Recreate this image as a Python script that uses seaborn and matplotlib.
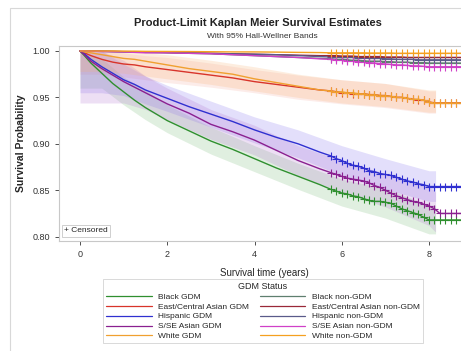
import numpy as np
import pandas as pd
import matplotlib
matplotlib.use('Agg')
import matplotlib.pyplot as plt
from matplotlib.lines import Line2D
from matplotlib.patches import Rectangle
import seaborn as sns

# time grid shared by all curves (years); censor marks from 5.75 on
times = [0, 0.1, 0.25, 0.5, 0.75, 1.0, 1.25, 1.5, 2.0, 2.5, 3.0, 3.5, 4.0, 4.5, 5.0, 5.5,
         5.75, 5.875, 6.0, 6.125, 6.25, 6.375, 6.5, 6.625, 6.75, 6.875, 7.0, 7.125, 7.25,
         7.375, 7.5, 7.625, 7.75, 7.875, 8.0, 8.125, 8.25, 8.375, 8.5, 8.625, 8.75]
censor_start = 16

black_gdm = [1.0, 0.995, 0.987, 0.976, 0.965, 0.956, 0.947, 0.939, 0.925, 0.914, 0.903, 0.894,
             0.884, 0.874, 0.865, 0.856,
             0.851, 0.849, 0.847, 0.846, 0.844, 0.843, 0.841, 0.839, 0.838, 0.838, 0.837, 0.836,
             0.833, 0.830, 0.828, 0.826, 0.824, 0.821, 0.818, 0.818, 0.818, 0.818, 0.818, 0.818, 0.818]
black_non = [1.0, 1.0, 0.9998, 0.9996, 0.9994, 0.9992, 0.999, 0.9985, 0.998, 0.9975, 0.997, 0.996,
             0.995, 0.994, 0.993, 0.992,
             0.9915, 0.991, 0.991, 0.9905, 0.990, 0.990, 0.9895, 0.989, 0.989, 0.989, 0.9885, 0.9885,
             0.988, 0.988, 0.988, 0.9875, 0.9875, 0.9875, 0.987, 0.987, 0.987, 0.987, 0.987, 0.987, 0.987]
east_gdm = [1.0, 0.998, 0.995, 0.991, 0.988, 0.986, 0.985, 0.983, 0.980, 0.977, 0.974, 0.971,
            0.967, 0.964, 0.961, 0.958,
            0.957, 0.956, 0.955, 0.955, 0.954, 0.954, 0.954, 0.953, 0.953, 0.952, 0.952, 0.951,
            0.950, 0.950, 0.949, 0.948, 0.947, 0.947, 0.945, 0.944, 0.944, 0.944, 0.944, 0.944, 0.944]
east_non = [1.0, 1.0, 1.0, 0.9998, 0.9996, 0.9994, 0.9992, 0.999, 0.9985, 0.998, 0.9975, 0.997,
            0.9965, 0.996, 0.9955, 0.995,
            0.995, 0.995, 0.9945, 0.9945, 0.9945, 0.994, 0.994, 0.994, 0.994, 0.994, 0.9935, 0.9935,
            0.9935, 0.9935, 0.993, 0.993, 0.993, 0.993, 0.993, 0.993, 0.993, 0.993, 0.993, 0.993, 0.993]
hisp_gdm = [1.0, 0.997, 0.991, 0.983, 0.976, 0.969, 0.964, 0.958, 0.949, 0.940, 0.932, 0.924,
            0.915, 0.907, 0.900, 0.891,
            0.887, 0.884, 0.882, 0.879, 0.877, 0.876, 0.874, 0.871, 0.870, 0.868, 0.867, 0.866,
            0.864, 0.862, 0.860, 0.859, 0.857, 0.856, 0.854, 0.854, 0.854, 0.854, 0.854, 0.854, 0.854]
hisp_non = [1.0, 1.0, 0.9998, 0.9996, 0.9994, 0.9992, 0.999, 0.9988, 0.9985, 0.998, 0.9975, 0.997,
            0.9965, 0.996, 0.995, 0.994,
            0.9935, 0.9935, 0.993, 0.993, 0.993, 0.9925, 0.9925, 0.992, 0.992, 0.992, 0.9915, 0.9915,
            0.991, 0.991, 0.991, 0.991, 0.9905, 0.9905, 0.9905, 0.9905, 0.9905, 0.9905, 0.9905, 0.9905, 0.9905]
sse_gdm = [1.0, 0.996, 0.989, 0.981, 0.974, 0.967, 0.961, 0.955, 0.943, 0.933, 0.921, 0.913,
           0.904, 0.893, 0.882, 0.873,
           0.869, 0.867, 0.865, 0.863, 0.862, 0.861, 0.860, 0.858, 0.855, 0.853, 0.850, 0.847,
           0.844, 0.842, 0.840, 0.838, 0.837, 0.835, 0.833, 0.830, 0.825, 0.825, 0.825, 0.825, 0.825]
sse_non = [1.0, 1.0, 0.9998, 0.9995, 0.9992, 0.999, 0.9985, 0.998, 0.998, 0.9975, 0.997, 0.996,
           0.995, 0.994, 0.993, 0.9915,
           0.991, 0.990, 0.990, 0.9895, 0.989, 0.9885, 0.988, 0.9875, 0.987, 0.9865, 0.986, 0.9855,
           0.985, 0.985, 0.9845, 0.984, 0.984, 0.9835, 0.983, 0.983, 0.983, 0.983, 0.983, 0.983, 0.983]
white_gdm = [1.0, 0.999, 0.998, 0.996, 0.994, 0.992, 0.991, 0.989, 0.985, 0.981, 0.978, 0.975,
             0.970, 0.966, 0.962, 0.958,
             0.957, 0.956, 0.956, 0.955, 0.955, 0.954, 0.954, 0.953, 0.953, 0.952, 0.952, 0.951,
             0.950, 0.950, 0.949, 0.948, 0.948, 0.947, 0.945, 0.944, 0.944, 0.944, 0.944, 0.944, 0.944]
white_non = [1.0, 1.0, 1.0, 1.0, 1.0, 0.9998, 0.9998, 0.9996, 0.9995, 0.9994, 0.9992, 0.999,
             0.999, 0.9988, 0.9985, 0.9983,
             0.998, 0.998, 0.998, 0.998, 0.998, 0.998, 0.998, 0.9978, 0.9978, 0.9978, 0.9978, 0.9978,
             0.9975, 0.9975, 0.9975, 0.9975, 0.9975, 0.9975, 0.9975, 0.9975, 0.9975, 0.9975, 0.9975, 0.9975, 0.9975]

# Hall-Wellner bands for the GDM groups
band_t = [0, 0.5, 1.0, 1.5, 2.0, 3.0, 4.0, 5.0, 6.0, 7.0, 8.0, 8.15]
black_lo = [0.960, 0.960, 0.942, 0.926, 0.912, 0.889, 0.870, 0.851, 0.833, 0.820, 0.803, 0.803]
black_hi = [1.000, 0.992, 0.972, 0.958, 0.942, 0.918, 0.898, 0.879, 0.862, 0.852, 0.834, 0.834]
hisp_lo = [0.955, 0.955, 0.952, 0.943, 0.935, 0.918, 0.901, 0.885, 0.866, 0.851, 0.838, 0.838]
hisp_hi = [1.000, 1.000, 0.986, 0.973, 0.963, 0.946, 0.929, 0.915, 0.898, 0.884, 0.871, 0.871]
sse_lo = [0.944, 0.944, 0.944, 0.937, 0.926, 0.905, 0.888, 0.866, 0.848, 0.832, 0.812, 0.805]
sse_hi = [1.000, 1.000, 0.990, 0.973, 0.960, 0.937, 0.920, 0.898, 0.882, 0.868, 0.854, 0.848]
east_lo = [0.975, 0.975, 0.972, 0.969, 0.966, 0.961, 0.955, 0.948, 0.943, 0.939, 0.933, 0.933]
east_hi = [1.000, 1.000, 0.998, 0.995, 0.993, 0.987, 0.980, 0.974, 0.969, 0.965, 0.957, 0.957]
white_lo = [0.978, 0.978, 0.976, 0.973, 0.970, 0.964, 0.957, 0.950, 0.944, 0.940, 0.934, 0.934]
white_hi = [1.000, 1.000, 1.000, 0.998, 0.996, 0.990, 0.983, 0.975, 0.969, 0.965, 0.958, 0.958]

groups = ['Black GDM', 'East/Central Asian GDM', 'Hispanic GDM', 'S/SE Asian GDM', 'White GDM',
          'Black non-GDM', 'East/Central Asian non-GDM', 'Hispanic non-GDM', 'S/SE Asian non-GDM',
          'White non-GDM']
curves = [black_gdm, east_gdm, hisp_gdm, sse_gdm, white_gdm,
          black_non, east_non, hisp_non, sse_non, white_non]
colors = ['#2f8f2f', '#d8342a', '#3030d0', '#8a2090', '#f0a030',
          '#5f7f6f', '#9a2838', '#5a5a8a', '#d040c8', '#f5a020']
bands = [('Black GDM', black_lo, black_hi, '#7fbf7f', 0.24),
         ('East/Central Asian GDM', east_lo, east_hi, '#f08070', 0.15),
         ('Hispanic GDM', hisp_lo, hisp_hi, '#9080f0', 0.25),
         ('S/SE Asian GDM', sse_lo, sse_hi, '#b070d0', 0.22),
         ('White GDM', white_lo, white_hi, '#f8b070', 0.22)]

df = pd.DataFrame({'time': times * len(groups),
                   'surv': sum(curves, []),
                   'group': np.repeat(groups, len(times))})
pal = dict(zip(groups, colors))

sns.set_theme(style='white')
plt.rcParams['font.family'] = ['Liberation Sans', 'DejaVu Sans']

fig = plt.figure(figsize=(4.61, 3.51), dpi=100)
fig.add_artist(Rectangle((10 / 461, -0.1), 1.0, 1.0 - 8 / 351 + 0.1, transform=fig.transFigure,
                         fill=False, edgecolor='#d8d8d8', lw=0.8))
ax = fig.add_axes([59.3 / 461, 1 - 241.3 / 351, (470 - 59.3) / 461, (241.3 - 45.7) / 351])

for name, lo, hi, c, a in bands:
    ax.fill_between(band_t, lo, hi, color=c, alpha=a, lw=0)

sns.lineplot(data=df, x='time', y='surv', hue='group', palette=pal, estimator=None,
             sort=False, lw=1.0, legend=False, ax=ax)

for name, vals in zip(groups, curves):
    ax.plot(times[censor_start:], vals[censor_start:], ls='none', marker='+', ms=5.5, mew=0.8,
            color=pal[name])

ax.set_xlim(-0.475, 8.94)
ax.set_ylim(0.795, 1.0057)
ax.set_xticks([0, 2, 4, 6, 8])
ax.set_yticks([0.80, 0.85, 0.90, 0.95, 1.00])
ax.set_yticklabels(['0.80', '0.85', '0.90', '0.95', '1.00'])
ax.tick_params(axis='both', labelsize=6.5, colors='#333333', length=3, width=0.6, direction='out',
               left=True, bottom=True)
for s in ax.spines.values():
    s.set_color('#c8c8c8')
    s.set_linewidth(0.8)
ax.set_xlabel('Survival time (years)', fontsize=7, labelpad=6)
ax.set_ylabel('Survival Probability', fontsize=7.5, fontweight='bold', labelpad=5)

ax.text(0.012, 0.035, '+ Censored', transform=ax.transAxes, fontsize=6, va='bottom', ha='left',
        bbox=dict(boxstyle='square,pad=0.3', fc='white', ec='#c8c8c8', lw=0.6))

fig.text(258 / 461, 1 - 23 / 351, 'Product-Limit Kaplan Meier Survival Estimates', ha='center',
         va='center', fontsize=8, fontweight='bold', color='#222222')
fig.text(262 / 461, 1 - 36 / 351, 'With 95% Hall-Wellner Bands', ha='center', va='center',
         fontsize=6, color='#333333')

handles = [Line2D([0], [0], color=pal[g], lw=0.9) for g in groups]
leg = fig.legend(handles, groups, ncol=2, loc='lower center', bbox_to_anchor=(263 / 461, 4 / 351),
                 fontsize=6, title='GDM Status', title_fontsize=6.5, frameon=True, fancybox=False,
                 edgecolor='#c8c8c8', handlelength=5.5, handletextpad=0.8, columnspacing=1.2,
                 labelspacing=0.25, borderpad=0.3)
leg.get_frame().set_linewidth(0.6)

fig.savefig('out.png', dpi=100)
